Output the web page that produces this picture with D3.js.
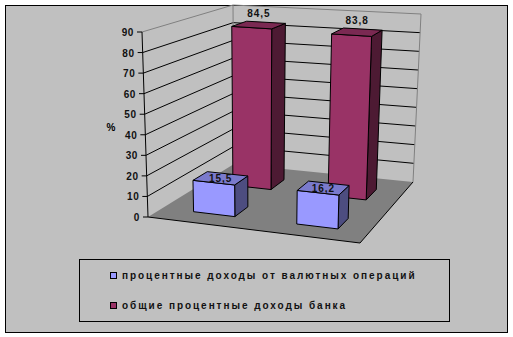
<!DOCTYPE html>
<html>
<head>
<meta charset="utf-8">
<script src="https://cdn.jsdelivr.net/npm/d3@7"></script>
<style>
  body { margin: 0; background: #fff; }
  text { font-family: "Liberation Sans", Arial, sans-serif; font-weight: bold; }
</style>
</head>
<body>
<div id="chart"></div>
<script>
// chart data
const categories = ["1", "2"];
const seriesNames = ["процентные доходы от валютных операций", "общие процентные доходы банка"];
const fxIncome = [15.5, 16.2];
const totalIncome = [84.5, 83.8];
const seriesColors = ["#9999ff", "#993366"];
const yTicks = [0, 10, 20, 30, 40, 50, 60, 70, 80, 90];
const yTitle = "%";

const width = 513, height = 337;

const svg = d3.select("#chart").append("svg")
    .attr("width", width)
    .attr("height", height);

// chart area
svg.append("rect")
    .attr("x", 5.5).attr("y", 5.5)
    .attr("width", 502).attr("height", 327)
    .attr("fill", "#c0c0c0")
    .attr("stroke", "#000");

// 3d box corners on screen: bottom (value 0) and top (value max)
const boxBottom = {fl: [148, 217], fr: [360, 243], bl: [234, 164], br: [413, 182]};
const boxTop = {fl: [142, 32], fr: [366, 49], bl: [233, 5], br: [421, 14]};

function bilerp(c, u, v) {
    return [0, 1].map(i =>
        (1 - u) * (1 - v) * c.fl[i] + u * (1 - v) * c.fr[i] +
        (1 - u) * v * c.bl[i] + u * v * c.br[i]);
}

// u: across categories, v: depth (series), t: 0..1 height
function proj(u, v, t) {
    const b = bilerp(boxBottom, u, v), tp = bilerp(boxTop, u, v);
    return [b[0] + t * (tp[0] - b[0]), b[1] + t * (tp[1] - b[1])];
}

const x = d3.scaleBand().domain(categories).range([0, 1]).paddingInner(0.6).paddingOuter(0.3);
const z = d3.scaleBand().domain(seriesNames).range([0, 1]).paddingInner(0.64).paddingOuter(0.35);
const y = d3.scaleLinear().domain([0, 90]).range([0, 1]);

const line = d3.line();
const poly = pts => line(pts) + "Z";

// floor
svg.append("path")
    .attr("d", poly([proj(0, 0, 0), proj(1, 0, 0), proj(1, 1, 0), proj(0, 1, 0)]))
    .attr("fill", "#808080");
svg.append("path")
    .attr("d", line([proj(0, 0, 0), proj(1, 0, 0), proj(1, 1, 0)]))
    .attr("fill", "none").attr("stroke", "#000");

// gridlines on side and back walls
yTicks.filter(d => d > 0 && d < 90).forEach(d => {
    const t = y(d);
    svg.append("path")
        .attr("d", line([proj(0, 0, t), proj(0, 1, t), proj(1, 1, t)]))
        .attr("fill", "none").attr("stroke", "#000");
});

// wall edges
svg.append("path")
    .attr("d", line([proj(0, 0, 1), proj(0, 1, 1), proj(1, 1, 1), proj(1, 1, 0)]))
    .attr("fill", "none").attr("stroke", "#808080");
svg.append("path")
    .attr("d", line([proj(0, 1, 1), proj(0, 1, 0)]))
    .attr("fill", "none").attr("stroke", "#808080");

// value axis
svg.append("path")
    .attr("d", line([proj(0, 0, 0), proj(0, 0, 1)]))
    .attr("fill", "none").attr("stroke", "#000");

yTicks.forEach(d => {
    const p = proj(0, 0, y(d));
    svg.append("line")
        .attr("x1", p[0] - 5).attr("x2", p[0])
        .attr("y1", p[1]).attr("y2", p[1])
        .attr("stroke", "#000");
    svg.append("text")
        .attr("x", p[0] - 8).attr("y", p[1] + 4)
        .attr("text-anchor", "end")
        .style("font-size", "10px")
        .style("letter-spacing", "0.6px")
        .attr("fill", "#111")
        .text(d);
});

svg.append("text")
    .attr("x", 111).attr("y", 131)
    .attr("text-anchor", "middle")
    .style("font-size", "10px")
    .text(yTitle);

// bars, back series first
const fmt = d => d3.format(".1f")(d).replace(".", ",");
const shade = (c, k) => { const r = d3.rgb(c); return d3.rgb(r.r * k, r.g * k, r.b * k).toString(); };
const seriesValues = [fxIncome, totalIncome];
const labelLift = [4, -8];

[1, 0].forEach(s => {
    categories.forEach((c, i) => {
        const u0 = x(c), u1 = x(c) + x.bandwidth();
        const v0 = z(seriesNames[s]), v1 = v0 + z.bandwidth();
        const t = y(seriesValues[s][i]);
        const col = seriesColors[s];
        const faces = [
            {pts: [proj(u1, v0, 0), proj(u1, v1, 0), proj(u1, v1, t), proj(u1, v0, t)], fill: shade(col, 0.5)},
            {pts: [proj(u0, v0, 0), proj(u1, v0, 0), proj(u1, v0, t), proj(u0, v0, t)], fill: col},
            {pts: [proj(u0, v0, t), proj(u1, v0, t), proj(u1, v1, t), proj(u0, v1, t)], fill: shade(col, 0.8)}
        ];
        svg.append("g").selectAll("path")
            .data(faces)
            .enter()
            .append("path")
            .attr("d", f => poly(f.pts))
            .attr("fill", f => f.fill)
            .attr("stroke", "#000")
            .attr("stroke-linejoin", "round");

        const lp = proj((u0 + u1) / 2, (v0 + v1) / 2, t);
        svg.append("text")
            .attr("x", lp[0]).attr("y", lp[1] + labelLift[s])
            .attr("text-anchor", "middle")
            .style("font-size", "10px")
            .style("letter-spacing", "1px")
            .attr("fill", "#111")
            .text(fmt(seriesValues[s][i]));
    });
});

// legend
svg.append("rect")
    .attr("x", 79.5).attr("y", 259.5)
    .attr("width", 370).attr("height", 62)
    .attr("fill", "none").attr("stroke", "#000");

const legendGroup = svg.selectAll(".legend")
    .data(seriesNames)
    .enter()
    .append("g")
    .attr("class", "legend")
    .attr("transform", (d, i) => `translate(110, ${272 + i * 30})`);

legendGroup.append("rect")
    .attr("x", 0.5).attr("y", 0.5)
    .attr("width", 6).attr("height", 6)
    .attr("fill", (d, i) => seriesColors[i])
    .attr("stroke", "#000");

legendGroup.append("text")
    .attr("x", 12).attr("y", 7)
    .style("font-size", "10px")
    .style("letter-spacing", "1.95px")
    .attr("fill", "#111")
    .text(d => d);
</script>
</body>
</html>
